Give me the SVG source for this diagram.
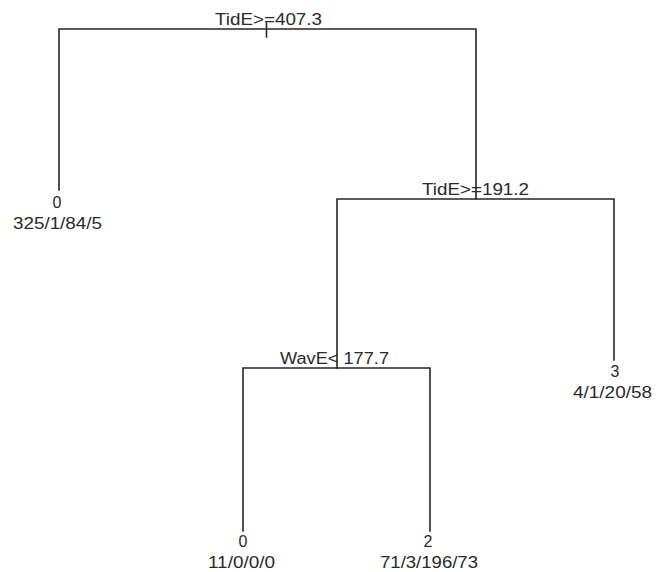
<svg xmlns="http://www.w3.org/2000/svg" width="658" height="572" viewBox="0 0 658 572">
<style>
.e{fill:none;stroke:#262626;stroke-width:1.6;stroke-linecap:square}
.t{font-family:"Liberation Sans",Arial,sans-serif;font-size:16px;fill:#2a2a2a;text-anchor:middle}
</style>
<rect width="658" height="572" fill="#fff"/>
<g id="connectors">
<path class="e" d="M266.5,23 V37"/>
<path class="e" d="M59,190 V29 H476 V199"/>
<path class="e" d="M337,368 V199 H614 V360"/>
<path class="e" d="M243,531 V368 H430 V531"/>
</g>
<g id="split1"><text class="t" x="268.5" y="25" textLength="107" lengthAdjust="spacingAndGlyphs">TidE&gt;=407.3</text></g>
<g id="split2"><text class="t" x="475.5" y="195" textLength="107" lengthAdjust="spacingAndGlyphs">TidE&gt;=191.2</text></g>
<g id="split3"><text class="t" x="334.5" y="364" textLength="109" lengthAdjust="spacingAndGlyphs">WavE&lt; 177.7</text></g>
<g id="leaf1"><text class="t" x="57" y="208">0</text><text class="t" x="57.5" y="229" textLength="89" lengthAdjust="spacingAndGlyphs">325/1/84/5</text></g>
<g id="leaf2"><text class="t" x="615" y="377">3</text><text class="t" x="612.5" y="398" textLength="79" lengthAdjust="spacingAndGlyphs">4/1/20/58</text></g>
<g id="leaf3"><text class="t" x="243" y="547">0</text><text class="t" x="241.5" y="568" textLength="67" lengthAdjust="spacingAndGlyphs">11/0/0/0</text></g>
<g id="leaf4"><text class="t" x="428" y="547">2</text><text class="t" x="429" y="568" textLength="98" lengthAdjust="spacingAndGlyphs">71/3/196/73</text></g>
</svg>
